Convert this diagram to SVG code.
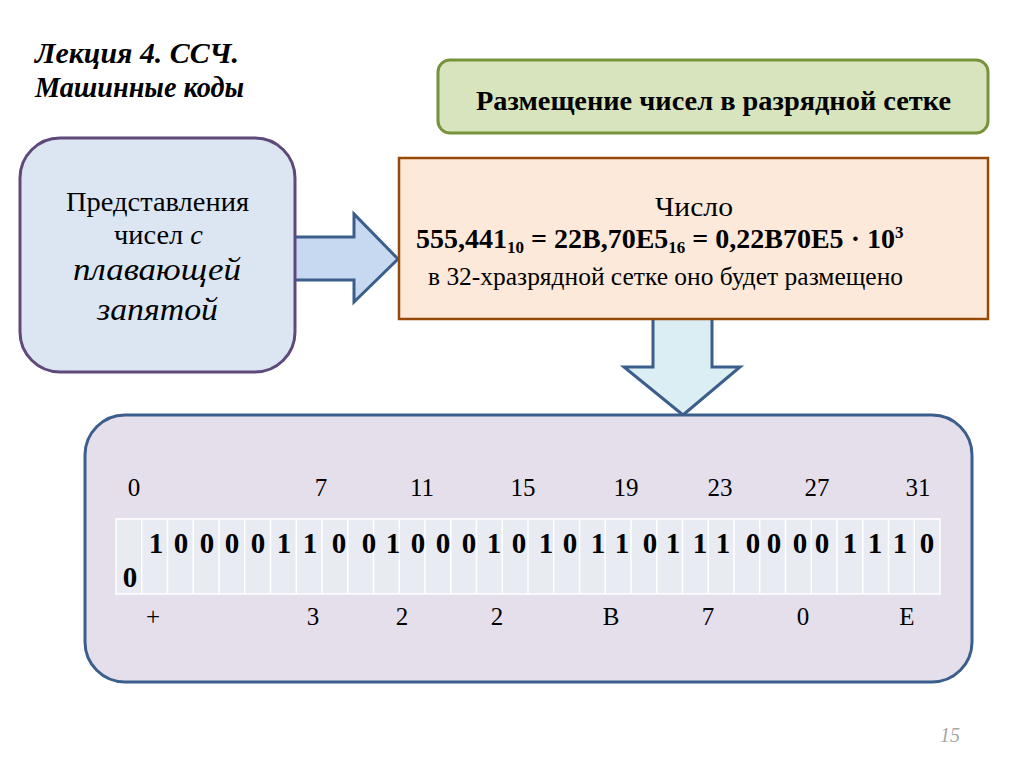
<svg xmlns="http://www.w3.org/2000/svg" width="1024" height="768" viewBox="0 0 1024 768">
<defs>
<style>
.serif{font-family:"Liberation Serif","DejaVu Serif","Times New Roman",serif;fill:#000}
.b{font-weight:bold}
.i{font-style:italic}
.pos{font-family:"Liberation Serif","DejaVu Serif",serif;font-size:25px;text-anchor:middle;fill:#000}
.bit{font-family:"Liberation Serif","DejaVu Serif",serif;font-size:29px;font-weight:bold;text-anchor:middle;fill:#000}
.arrow{stroke:#3b5e8c;stroke-width:3;stroke-linejoin:miter}
</style>
</defs>
<rect width="1024" height="768" fill="#ffffff"/>

<g id="title">
<text class="serif b i" x="35" y="63" font-size="29" textLength="204" lengthAdjust="spacingAndGlyphs">Лекция 4. ССЧ.</text>
<text class="serif b i" x="35" y="97" font-size="29" textLength="209" lengthAdjust="spacingAndGlyphs">Машинные коды</text>
</g>

<g id="connectors">
<path class="arrow" fill="#c6d9f1" d="M288,237 H354 V214 L398,259 L354,302 V280 H288 Z"/>
<path class="arrow" fill="#dbeef4" d="M653,316 H712 V367 H740 L683,415 L624,367 H653 Z"/>
</g>

<g id="node-left">
<rect x="20" y="138" width="275" height="234" rx="40" ry="40" fill="#dce6f2" stroke="#5f497a" stroke-width="3"/>
<text class="serif" x="66" y="211" font-size="28" textLength="183" lengthAdjust="spacingAndGlyphs">Представления</text>
<text class="serif" x="114" y="244" font-size="28" textLength="89" lengthAdjust="spacingAndGlyphs">чисел <tspan class="i">с</tspan></text>
<text class="serif i" x="73" y="280" font-size="32" textLength="168" lengthAdjust="spacingAndGlyphs">плавающей</text>
<text class="serif i" x="97" y="320" font-size="32" textLength="121" lengthAdjust="spacingAndGlyphs">запятой</text>
</g>

<g id="node-header">
<rect x="438" y="60" width="550" height="73" rx="12" ry="12" fill="#d7e4bd" stroke="#77933c" stroke-width="3"/>
<text class="serif b" x="476" y="110" font-size="27" textLength="475" lengthAdjust="spacingAndGlyphs">Размещение чисел в разрядной сетке</text>
</g>

<g id="node-number">
<rect x="399" y="158" width="589" height="161" fill="#fde9d9" stroke="#984807" stroke-width="2.5"/>
<text class="serif" x="655" y="216" font-size="28" textLength="78" lengthAdjust="spacingAndGlyphs">Число</text>
<text class="serif b" x="416" y="248" font-size="28">555,441<tspan font-size="17" dy="5">10</tspan><tspan dy="-5"> = 22B,70E5</tspan><tspan font-size="17" dy="5">16</tspan><tspan dy="-5"> = 0,22B70E5</tspan><tspan> · 10</tspan><tspan font-size="17" dy="-10">3</tspan></text>
<text class="serif" x="428" y="285" font-size="25" textLength="475" lengthAdjust="spacingAndGlyphs">в 32-хразрядной сетке оно будет размещено</text>
</g>

<g id="node-grid">
<rect x="85" y="415" width="887" height="267" rx="40" ry="40" fill="#e5dfec" stroke="#3b5e8c" stroke-width="3"/>
<g id="positions">
<text class="pos" x="134" y="496">0</text>
<text class="pos" x="321" y="496">7</text>
<text class="pos" x="422" y="496">11</text>
<text class="pos" x="523" y="496">15</text>
<text class="pos" x="626" y="496">19</text>
<text class="pos" x="720" y="496">23</text>
<text class="pos" x="817" y="496">27</text>
<text class="pos" x="918" y="496">31</text>
</g>
<g id="table">
<rect x="116" y="519" width="824" height="75" fill="#e9ebf3" stroke="#ffffff" stroke-width="1.5"/>
<path stroke="#ffffff" stroke-width="1.5" fill="none" d="M141.75,519V594 M167.5,519V594 M193.25,519V594 M219,519V594 M244.75,519V594 M270.5,519V594 M296.25,519V594 M322,519V594 M347.75,519V594 M373.5,519V594 M399.25,519V594 M425,519V594 M450.75,519V594 M476.5,519V594 M502.25,519V594 M528,519V594 M553.75,519V594 M579.5,519V594 M605.25,519V594 M631,519V594 M656.75,519V594 M682.5,519V594 M708.25,519V594 M734,519V594 M759.75,519V594 M785.5,519V594 M811.25,519V594 M837,519V594 M862.75,519V594 M888.5,519V594 M914.25,519V594"/>
<text class="bit" x="130" y="587">0</text>
<text class="bit" x="156" y="553">1</text>
<text class="bit" x="181" y="553">0</text>
<text class="bit" x="207" y="553">0</text>
<text class="bit" x="232" y="553">0</text>
<text class="bit" x="258" y="553">0</text>
<text class="bit" x="284" y="553">1</text>
<text class="bit" x="310" y="553">1</text>
<text class="bit" x="339" y="553">0</text>
<text class="bit" x="369" y="553">0</text>
<text class="bit" x="393" y="553">1</text>
<text class="bit" x="418" y="553">0</text>
<text class="bit" x="443" y="553">0</text>
<text class="bit" x="469" y="553">0</text>
<text class="bit" x="494" y="553">1</text>
<text class="bit" x="519" y="553">0</text>
<text class="bit" x="546" y="553">1</text>
<text class="bit" x="570" y="553">0</text>
<text class="bit" x="598" y="553">1</text>
<text class="bit" x="622" y="553">1</text>
<text class="bit" x="650" y="553">0</text>
<text class="bit" x="673" y="553">1</text>
<text class="bit" x="700" y="553">1</text>
<text class="bit" x="723" y="553">1</text>
<text class="bit" x="753" y="553">0</text>
<text class="bit" x="774" y="553">0</text>
<text class="bit" x="800" y="553">0</text>
<text class="bit" x="822" y="553">0</text>
<text class="bit" x="850" y="553">1</text>
<text class="bit" x="875" y="553">1</text>
<text class="bit" x="900" y="553">1</text>
<text class="bit" x="927" y="553">0</text>
</g>
<g id="hex">
<text class="pos" x="153" y="625">+</text>
<text class="pos" x="313" y="625">3</text>
<text class="pos" x="402" y="625">2</text>
<text class="pos" x="497" y="625">2</text>
<text class="pos" x="611" y="625">B</text>
<text class="pos" x="708" y="625">7</text>
<text class="pos" x="803" y="625">0</text>
<text class="pos" x="907" y="625">E</text>
</g>
</g>

<text class="serif i" x="950" y="742" font-size="20" text-anchor="middle" style="fill:#a6a6a6">15</text>
</svg>
